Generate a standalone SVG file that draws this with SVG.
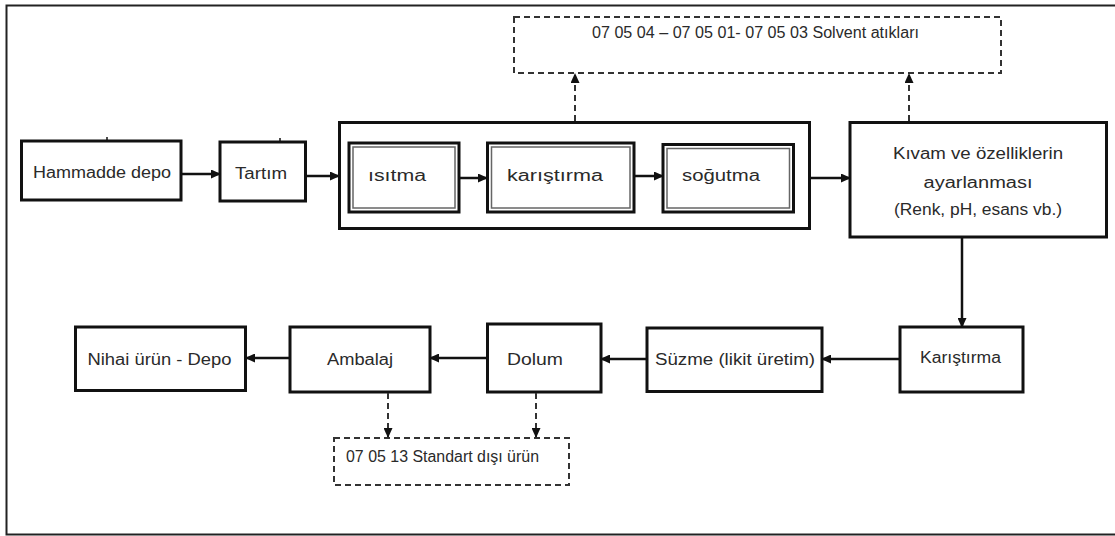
<svg xmlns="http://www.w3.org/2000/svg" width="1115" height="536" viewBox="0 0 1115 536">
<style>
.box{fill:#fff;stroke:#111;stroke-width:3}
.inner{fill:none;stroke:#666;stroke-width:1.5}
.dbox{fill:#fff;stroke:#333;stroke-width:2;stroke-dasharray:6 4}
.t{font-family:"Liberation Sans",Arial,sans-serif;fill:#2a2a2a;font-size:16px}
.c{stroke:#111;stroke-width:2.5;fill:none}
.d{stroke:#333;stroke-width:2;fill:none;stroke-dasharray:6 4}
</style>
<defs>
<marker id="ah" markerUnits="userSpaceOnUse" markerWidth="10" markerHeight="9" refX="9" refY="4.5" orient="auto">
<path d="M0,0 L10,4.5 L0,9 z" fill="#111"/>
</marker>
</defs>
<rect x="6.5" y="5.5" width="1115" height="529" fill="#fff" stroke="#222" stroke-width="2"/>

<g id="solvent">
<rect class="dbox" x="514" y="17" width="487" height="56"/>
<text class="t" x="592" y="38" font-size="13" textLength="327" lengthAdjust="spacingAndGlyphs">07 05 04 – 07 05 01- 07 05 03 Solvent atıkları</text>
</g>

<g id="hammadde">
<rect class="box" x="21.5" y="141" width="159.5" height="59"/>
<line x1="107" y1="137" x2="107" y2="141" stroke="#111" stroke-width="1.5"/>
<text class="t" x="33" y="178" font-size="17" textLength="138" lengthAdjust="spacingAndGlyphs">Hammadde depo</text>
</g>

<g id="tartim">
<rect class="box" x="220" y="142" width="85.5" height="59"/>
<line x1="280" y1="138" x2="280" y2="142" stroke="#111" stroke-width="1.5"/>
<text class="t" x="235" y="179" font-size="17" textLength="52" lengthAdjust="spacingAndGlyphs">Tartım</text>
</g>

<g id="process">
<rect class="box" x="339.5" y="122.5" width="470" height="106"/>
</g>

<g id="isitma">
<rect class="box" x="349" y="143" width="110" height="69" stroke-width="2.5"/>
<rect class="inner" x="353" y="147" width="102" height="61"/>
<text class="t" x="368" y="181" font-size="20" textLength="58" lengthAdjust="spacingAndGlyphs">ısıtma</text>
</g>

<g id="karistirma1">
<rect class="box" x="487.5" y="143" width="146.5" height="69" stroke-width="2.5"/>
<rect class="inner" x="491.5" y="147" width="138.5" height="61"/>
<text class="t" x="507" y="181" font-size="20" textLength="96" lengthAdjust="spacingAndGlyphs">karıştırma</text>
</g>

<g id="sogutma">
<rect class="box" x="663" y="144.5" width="130.5" height="67.5" stroke-width="2.5"/>
<rect class="inner" x="667" y="148.5" width="122.5" height="59.5"/>
<text class="t" x="682" y="181" font-size="20" textLength="78" lengthAdjust="spacingAndGlyphs">soğutma</text>
</g>

<g id="kivam">
<rect class="box" x="850" y="122.5" width="256.5" height="114.5" stroke-width="3.5"/>
<text class="t" x="978" y="159" font-size="16" text-anchor="middle" textLength="170" lengthAdjust="spacingAndGlyphs">Kıvam ve özelliklerin</text>
<text class="t" x="978" y="188" font-size="16" text-anchor="middle" textLength="109" lengthAdjust="spacingAndGlyphs">ayarlanması</text>
<text class="t" x="978" y="215" font-size="16" text-anchor="middle" textLength="168" lengthAdjust="spacingAndGlyphs">(Renk, pH, esans vb.)</text>
</g>

<g id="karistirma2">
<rect class="box" x="900" y="327" width="123" height="65"/>
<text class="t" x="920" y="363" font-size="16" textLength="81" lengthAdjust="spacingAndGlyphs">Karıştırma</text>
</g>

<g id="suzme">
<rect class="box" x="647" y="328" width="175" height="63.5"/>
<text class="t" x="655" y="365" font-size="16" textLength="160" lengthAdjust="spacingAndGlyphs">Süzme (likit üretim)</text>
</g>

<g id="dolum">
<rect class="box" x="487.5" y="324" width="113.5" height="68"/>
<text class="t" x="507" y="365" font-size="17" textLength="56" lengthAdjust="spacingAndGlyphs">Dolum</text>
</g>

<g id="ambalaj">
<rect class="box" x="290" y="327" width="140" height="65"/>
<text class="t" x="327" y="365" font-size="17" textLength="66" lengthAdjust="spacingAndGlyphs">Ambalaj</text>
</g>

<g id="nihai">
<rect class="box" x="75.5" y="327" width="170" height="63.5"/>
<text class="t" x="87.5" y="365" font-size="17" textLength="144" lengthAdjust="spacingAndGlyphs">Nihai ürün - Depo</text>
</g>

<g id="standart">
<rect class="dbox" x="334" y="438" width="235" height="47"/>
<text class="t" x="346" y="462" font-size="15" textLength="193" lengthAdjust="spacingAndGlyphs">07 05 13 Standart dışı ürün</text>
</g>

<g id="connectors">
<line class="c" x1="181" y1="174" x2="220" y2="174" marker-end="url(#ah)"/>
<line class="c" x1="306" y1="176" x2="339" y2="176" marker-end="url(#ah)"/>
<line class="c" x1="459" y1="178" x2="487" y2="178" marker-end="url(#ah)"/>
<line class="c" x1="634" y1="176" x2="663" y2="176" marker-end="url(#ah)"/>
<line class="c" x1="810" y1="178" x2="850" y2="178" marker-end="url(#ah)"/>
<line class="d" x1="575" y1="121" x2="575" y2="74" marker-end="url(#ah)"/>
<line class="d" x1="909" y1="121" x2="909" y2="74" marker-end="url(#ah)"/>
<line class="c" x1="962" y1="237" x2="962" y2="327" marker-end="url(#ah)"/>
<line class="c" x1="900" y1="359" x2="822" y2="359" marker-end="url(#ah)"/>
<line class="c" x1="647" y1="359" x2="601" y2="359" marker-end="url(#ah)"/>
<line class="c" x1="487" y1="358" x2="430" y2="358" marker-end="url(#ah)"/>
<line class="c" x1="290" y1="358" x2="246" y2="358" marker-end="url(#ah)"/>
<line class="d" x1="388" y1="393" x2="388" y2="437" marker-end="url(#ah)"/>
<line class="d" x1="536" y1="393" x2="536" y2="437" marker-end="url(#ah)"/>
</g>
</svg>
